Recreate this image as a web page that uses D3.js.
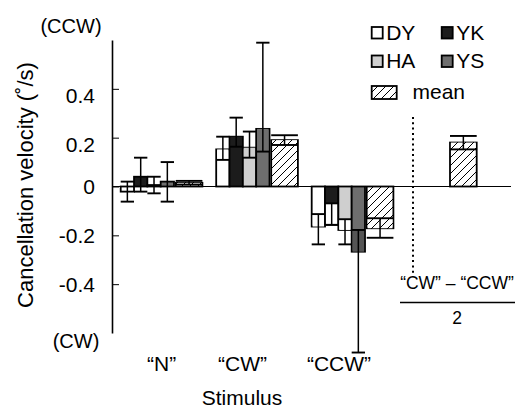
<!DOCTYPE html>
<html><head><meta charset="utf-8">
<script src="https://cdn.jsdelivr.net/npm/d3@7"></script>
<style>
body{margin:0;background:#fff}
svg{display:block}
text{font-family:"Liberation Sans",Arial,Helvetica,sans-serif;fill:#000}
</style>
</head><body><svg id="c" width="520" height="408"></svg>
<script>
// ---------- data ----------
const stimuli = ["“N”", "“CW”", "“CCW”"];
const subjects = ["DY", "YK", "HA", "YS"];
const yTicks = [-0.4, -0.2, 0, 0.2, 0.4];
const tickLabels = ["-0.4", "-0.2", "0", "0.2", "0.4"];
// mean and error-bar ends (lo, hi) for "N", "CW", "CCW"
const dyMean = [-0.021, 0.152, -0.164], dyLo = [-0.062, 0.109, -0.237], dyHi = [0.020, 0.204, -0.113];
const ykMean = [0.040, 0.204, -0.157], ykLo = [-0.021, 0.163, -0.157], ykHi = [0.118, 0.282, -0.069];
const haMean = [0.006, 0.159, -0.178], haLo = [-0.028, 0.118, -0.237], haHi = [0.040, 0.225, -0.134];
const ysMean = [0.020, 0.236, -0.267], ysLo = [-0.062, 0.143, -0.680], ysHi = [0.100, 0.589, -0.178];
const avgMean = [0.015, 0.190, -0.171], avgLo = [0.008, 0.170, -0.210], avgHi = [0.023, 0.210, -0.130];
const diffMean = [0.180], diffLo = [0.152], diffHi = [0.207];
const diffLabel = ["(“CW” – “CCW”) / 2"];

// ---------- styles ----------
const fills = {DY: "#ffffff", YK: "#1c1c1c", HA: "#cfcfcf", YS: "#6e6e6e"};
const innerFillsNeg = {DY: "#ffffff", YK: "#ffffff", HA: "#ffffff", YS: "#555555"};
const FONT = 21;

const svg = d3.select("#c");
const defs = svg.append("defs");
const pat = defs.append("pattern").attr("id", "hatch").attr("patternUnits", "userSpaceOnUse")
  .attr("width", 8).attr("height", 8);
pat.append("rect").attr("width", 8).attr("height", 8).attr("fill", "#fff");
pat.append("path").attr("d", "M-2,2 l4,-4 M0,8 l8,-8 M6,10 l4,-4")
  .attr("stroke", "#000").attr("stroke-width", 1);

// ---------- scales ----------
const y = d3.scaleLinear().domain([-0.6, 0.6]).range([333, 40]);
const xGroup = d3.scaleBand().domain(stimuli).range([120.7, 120.7 + 3 * 95.5]);
const xSub = d3.scaleBand().domain(subjects).range([0, 53.3]);
const xDiff = d3.scaleBand().domain(diffLabel).range([450, 476.7]);
const AVG_OFF = 55, AVG_W = 26.7;

// zero line
svg.append("line").attr("x1", 112).attr("x2", 511).attr("y1", y(0)).attr("y2", y(0))
  .attr("stroke", "#000").attr("stroke-width", 1.2);

// axis
const axis = d3.axisRight(y).tickValues(yTicks).tickSize(7).tickSizeOuter(0).tickFormat("");
const ag = svg.append("g").attr("transform", "translate(112,0)").call(axis);
ag.select(".domain").attr("stroke-width", 1.6);
ag.selectAll(".tick line").attr("stroke-width", 1);

svg.selectAll("text.tl").data(yTicks).join("text").attr("class", "tl")
  .attr("x", 95).attr("y", (d) => y(d) + 7.5 + (d > 0 ? 7 : 0))
  .attr("text-anchor", "end").attr("font-size", FONT)
  .text((d, i) => tickLabels[i]);

svg.append("text").attr("x", 71).attr("y", 33).attr("text-anchor", "middle").attr("font-size", FONT - 1).text("(CCW)");
svg.append("text").attr("x", 76).attr("y", 348).attr("text-anchor", "middle").attr("font-size", FONT - 1).text("(CW)");
svg.append("text").attr("transform", "translate(33,185) rotate(-90)").attr("text-anchor", "middle")
  .attr("font-size", 22).text("Cancellation velocity (˚/s)");

// bar drawing
function drawBar(x, w, m, lo, hi, fill, innerFill) {
  const g = svg.append("g");
  g.append("rect").attr("x", x).attr("width", w)
    .attr("y", Math.min(y(0), y(m))).attr("height", Math.abs(y(m) - y(0)))
    .attr("fill", fill).attr("stroke", "#000").attr("stroke-width", 1.8);
  // inner error segment (between inner cap and mean)
  const inner = m >= 0 ? lo : hi;
  if ((m >= 0 && inner > 0 && inner < m) || (m < 0 && inner < 0 && inner > m)) {
    g.append("rect").attr("x", x + 0.9).attr("width", w - 1.8)
      .attr("y", Math.min(y(inner), y(m))).attr("height", Math.abs(y(m) - y(inner)))
      .attr("fill", innerFill);
  }
  const cx = x + w / 2;
  g.append("line").attr("x1", cx).attr("x2", cx).attr("y1", y(lo)).attr("y2", y(hi))
    .attr("stroke", "#000").attr("stroke-width", 1.5);
  [lo, hi].forEach((v) => g.append("line").attr("x1", x).attr("x2", x + w)
    .attr("y1", y(v)).attr("y2", y(v)).attr("stroke", "#000").attr("stroke-width", 1.9));
}

const subjData = {
  DY: [dyMean, dyLo, dyHi], YK: [ykMean, ykLo, ykHi],
  HA: [haMean, haLo, haHi], YS: [ysMean, ysLo, ysHi]
};
stimuli.forEach((s, i) => {
  const x0 = xGroup(s);
  subjects.forEach((sub) => {
    const [m, lo, hi] = subjData[sub];
    const f = fills[sub];
    drawBar(x0 + xSub(sub), xSub.bandwidth(), m[i], lo[i], hi[i], f,
      m[i] < 0 ? innerFillsNeg[sub] : f);
  });
  drawBar(x0 + AVG_OFF, AVG_W, avgMean[i], avgLo[i], avgHi[i], "url(#hatch)", "url(#hatch)");
});
drawBar(xDiff(diffLabel[0]), xDiff.bandwidth(), diffMean[0], diffLo[0], diffHi[0], "url(#hatch)", "url(#hatch)");

// category labels
const labelShift = [41, 26.3, 27.3];
svg.selectAll("text.cat").data(stimuli).join("text").attr("class", "cat")
  .attr("x", (d, i) => xGroup(d) + labelShift[i]).attr("y", 371)
  .attr("text-anchor", "middle").attr("font-size", FONT).text((d) => d);
svg.append("text").attr("x", 242).attr("y", 405).attr("text-anchor", "middle")
  .attr("font-size", FONT).text("Stimulus");

// dotted separator
svg.append("line").attr("x1", 413).attr("x2", 413).attr("y1", 117).attr("y2", 275)
  .attr("stroke", "#000").attr("stroke-width", 2).attr("stroke-dasharray", "2,3.3");

// fraction label
svg.append("text").attr("x", 457).attr("y", 289).attr("text-anchor", "middle")
  .attr("font-size", 17.5).text("“CW” – “CCW”");
svg.append("line").attr("x1", 400).attr("x2", 515).attr("y1", 302.5).attr("y2", 302.5)
  .attr("stroke", "#000").attr("stroke-width", 1.3);
svg.append("text").attr("x", 457).attr("y", 324).attr("text-anchor", "middle")
  .attr("font-size", 17.5).text("2");

// legend
const legPos = {DY: [371.7, 27], YK: [441.7, 27], HA: [371.7, 55.5], YS: [441.7, 55.5]};
subjects.forEach((s) => {
  const [lx, ly] = legPos[s];
  svg.append("rect").attr("x", lx).attr("y", ly).attr("width", 11).attr("height", 11.5)
    .attr("fill", fills[s]).attr("stroke", "#000").attr("stroke-width", 1.8);
  svg.append("text").attr("x", lx + 14.5).attr("y", ly + 12.5).attr("font-size", FONT).text(s);
});
svg.append("rect").attr("x", 371.7).attr("y", 86).attr("width", 25).attr("height", 13)
  .attr("fill", "url(#hatch)").attr("stroke", "#000").attr("stroke-width", 1.8);
svg.append("text").attr("x", 412.5).attr("y", 99).attr("font-size", FONT).text("mean");
</script>
</body></html>
